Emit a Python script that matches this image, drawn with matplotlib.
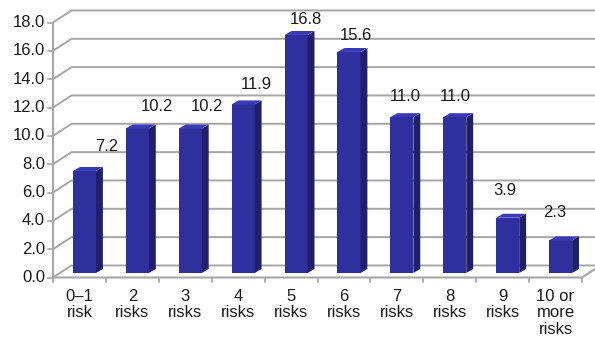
import matplotlib.pyplot as plt
from matplotlib.patches import Polygon

plt.rcParams['font.family'] = ['Liberation Sans', 'DejaVu Sans']

categories = ["0–1\nrisk", "2\nrisks", "3\nrisks", "4\nrisks", "5\nrisks",
              "6\nrisks", "7\nrisks", "8\nrisks", "9\nrisks", "10 or\nmore\nrisks"]
values = [7.2, 10.2, 10.2, 11.9, 16.8, 15.6, 11.0, 11.0, 3.9, 2.3]
yticks = [0, 2, 4, 6, 8, 10, 12, 14, 16, 18]

# depth of the 3d box and of the bars (data units)
DX, DY = 0.35, 0.85
BAR_L, BAR_W = 0.378, 0.435
SIDE_DX, SIDE_DY = 0.13, 0.28
BASE = 0.32

FRONT = '#2f2f9e'
SIDE = '#1f1f6c'
TOP = '#3a3ab8'
GRID = '#a6a6a6'
FS = 12

fig = plt.figure(figsize=(5.95, 3.41), dpi=100)
ax = fig.add_axes([53 / 595, 63.5 / 341, 529 / 595, 255 / 341])
ax.set_xlim(0, 10)
ax.set_ylim(0, 18)
ax.axis('off')

n = len(values)

# walls: gridlines on the back wall plus diagonals on the left wall
for v in yticks:
    ax.plot([0, DX, n + DX + 1], [v, v + DY, v + DY], color=GRID, lw=1.4,
            clip_on=False, zorder=1)
    ax.plot([-0.095, 0], [v, v], color=GRID, lw=1.2, clip_on=False, zorder=1)
    ax.text(-0.15, v, f"{v:.1f}", ha='right', va='center', fontsize=FS,
            color='#1a1a1a')

# front axis line and floor edge
ax.plot([0, 0], [0, 18], color=GRID, lw=1.5, clip_on=False, zorder=2)
ax.plot([0, n, n + DX], [0, 0, DY], color=GRID, lw=1.5, clip_on=False, zorder=2)
for k in range(n + 1):
    ax.plot([k, k], [0, -0.35], color=GRID, lw=1.2, clip_on=False, zorder=2)

# 3d bars
for i, v in enumerate(values):
    l = i + BAR_L
    r = l + BAR_W
    b = BASE
    t = BASE + v
    ax.add_patch(Polygon([(l, b), (r, b), (r, t), (l, t)], closed=True,
                         facecolor=FRONT, edgecolor='none', zorder=3, clip_on=False))
    ax.add_patch(Polygon([(r, b), (r + SIDE_DX, b + SIDE_DY),
                          (r + SIDE_DX, t + SIDE_DY), (r, t)], closed=True,
                         facecolor=SIDE, edgecolor='none', zorder=3, clip_on=False))
    ax.add_patch(Polygon([(l, t), (r, t), (r + SIDE_DX, t + SIDE_DY),
                          (l + SIDE_DX, t + SIDE_DY)], closed=True,
                         facecolor=TOP, edgecolor='none', zorder=3, clip_on=False))
    # value labels follow the perspective of the chart
    ax.text(i + 1.02 - 0.059 * i, 2.46 + 0.939 * v, f"{v:.1f}", ha='center',
            va='center', fontsize=FS, color='#1a1a1a', zorder=4)

for i, lab in enumerate(categories):
    ax.text(i + 0.5, -0.8, lab, ha='center', va='top', fontsize=FS,
            linespacing=1.12, color='#1a1a1a')

fig.savefig('out.png', dpi=100)
